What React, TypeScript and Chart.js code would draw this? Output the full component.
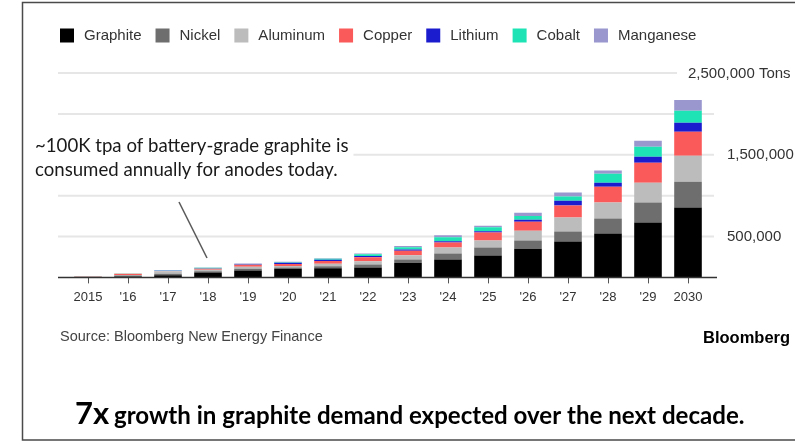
import React, { useEffect, useRef } from "react";
import { Chart, registerables } from "chart.js";

Chart.register(...registerables);

const CATEGORIES = ["2015", "'16", "'17", "'18", "'19", "'20", "'21", "'22", "'23", "'24", "'25", "'26", "'27", "'28", "'29", "2030"];

const GRAPHITE = [5000, 12000, 25000, 60000, 85000, 105000, 112000, 122000, 175000, 220000, 268000, 350000, 439000, 537000, 671000, 854000];
const NICKEL = [4000, 12000, 20000, 15000, 20000, 15000, 25000, 35000, 45000, 73000, 98000, 100000, 122000, 183000, 244000, 317000];
const ALUMINUM = [3000, 5000, 30000, 20000, 25000, 20000, 30000, 40000, 50000, 73000, 85000, 120000, 171000, 195000, 244000, 317000];
const COPPER = [2000, 15000, 3000, 12000, 25000, 25000, 35000, 50000, 55000, 61000, 98000, 110000, 146000, 195000, 244000, 293000];
const LITHIUM = [500, 1000, 2000, 3000, 5000, 15000, 15000, 15000, 15000, 15000, 15000, 25000, 61000, 49000, 73000, 110000];
const COBALT = [500, 2000, 5000, 8000, 5000, 5000, 10000, 20000, 30000, 49000, 49000, 45000, 49000, 110000, 122000, 146000];
const MANGANESE = [500, 2000, 1000, 3000, 5000, 5000, 7000, 10000, 15000, 24000, 18000, 40000, 49000, 37000, 73000, 134000];

const SERIES_NAMES = ["Graphite", "Nickel", "Aluminum", "Copper", "Lithium", "Cobalt", "Manganese"];
const SERIES_COLORS = ["#000000", "#6e6e6e", "#bcbcbc", "#fb5a5a", "#1c1ccf", "#1ee3b4", "#9a97cf"];

const GRID_VALUES = [500000, 1000000, 1500000, 2000000, 2500000];
const Y_LABEL_VALUES = [500000, 1500000, 2500000];
const Y_LABELS = ["500,000", "1,500,000", "2,500,000 Tons"];

const NOTE_LINES = ["~100K tpa of battery-grade graphite is", "consumed annually for anodes today."];
const SOURCE = "Source: Bloomberg New Energy Finance";
const BRAND = "Bloomberg";
const CAPTION_BIG = "7x";
const CAPTION_REST = "growth in graphite demand expected over the next decade.";

const SANS = "'Liberation Sans', Arial, sans-serif";
const HUMAN = "Lato, 'Open Sans', sans-serif";

function fitSize(ctx: CanvasRenderingContext2D, text: string, weight: string, family: string, target: number) {
  ctx.font = `${weight} 100px ${family}`;
  const w = ctx.measureText(text).width;
  return (100 * target) / w;
}

const decorPlugin = {
  id: "decor",
  beforeDraw(chart: any) {
    const ctx = chart.ctx as CanvasRenderingContext2D;
    const W = chart.width;
    ctx.save();
    ctx.fillStyle = "#ffffff";
    ctx.fillRect(0, 0, W, chart.height);
    // frame
    ctx.strokeStyle = "#4a4a4a";
    ctx.lineWidth = 1.5;
    ctx.beginPath();
    ctx.moveTo(W, 2.5);
    ctx.lineTo(22.5, 2.5);
    ctx.lineTo(22.5, 440);
    ctx.lineTo(W, 440);
    ctx.stroke();

    // legend
    ctx.font = `15px ${SANS}`;
    ctx.textBaseline = "middle";
    let x = 60;
    const ly = 35.5;
    SERIES_NAMES.forEach((name, i) => {
      ctx.fillStyle = SERIES_COLORS[i];
      ctx.fillRect(x, ly - 7, 14, 14);
      x += 24;
      ctx.fillStyle = "#333333";
      ctx.fillText(name, x, ly + 0.5);
      x += ctx.measureText(name).width + 14;
    });

    // source + brand
    ctx.textBaseline = "alphabetic";
    ctx.font = `14.5px ${SANS}`;
    ctx.fillStyle = "#444444";
    ctx.fillText(SOURCE, 60, 341);
    ctx.font = `bold 16.5px ${SANS}`;
    ctx.fillStyle = "#000000";
    ctx.fillText(BRAND, 703, 343);

    // caption
    ctx.font = `700 31px ${HUMAN}`;
    ctx.fillStyle = "#000000";
    ctx.fillText(CAPTION_BIG, 75, 424);
    const capSize = fitSize(ctx, CAPTION_REST, "700", HUMAN, 631);
    ctx.font = `700 ${capSize}px ${HUMAN}`;
    ctx.fillText(CAPTION_REST, 114, 424);
    ctx.restore();
  },
  beforeDatasetsDraw(chart: any) {
    const ctx = chart.ctx as CanvasRenderingContext2D;
    const y = chart.scales.y;
    const area = chart.chartArea;
    ctx.save();
    ctx.strokeStyle = "#e6e6e6";
    ctx.lineWidth = 2;
    GRID_VALUES.forEach((v) => {
      const py = y.getPixelForValue(v);
      const right = v === 2500000 ? area.right - 31 : area.right + 6;
      ctx.beginPath();
      ctx.moveTo(area.left - 10, py);
      ctx.lineTo(right, py);
      ctx.stroke();
    });
    ctx.fillStyle = "#333333";
    ctx.font = `15px ${SANS}`;
    ctx.textBaseline = "middle";
    Y_LABEL_VALUES.forEach((v, i) => {
      const py = y.getPixelForValue(v);
      const lx = v === 2500000 ? area.right - 20 : area.right + 19;
      ctx.fillText(Y_LABELS[i], lx, py + 0.5);
    });

    // note with white backing
    const noteSize = fitSize(ctx, NOTE_LINES[1], "400", HUMAN, 303);
    ctx.font = `400 ${noteSize}px ${HUMAN}`;
    const nw = Math.max(ctx.measureText(NOTE_LINES[0]).width, ctx.measureText(NOTE_LINES[1]).width);
    ctx.fillStyle = "#ffffff";
    ctx.fillRect(30, 133, nw + 10, 50);
    ctx.fillStyle = "#1a1a1a";
    ctx.textBaseline = "alphabetic";
    ctx.fillText(NOTE_LINES[0], 35, 152);
    ctx.fillText(NOTE_LINES[1], 35, 176);
    ctx.restore();
  },
  afterDatasetsDraw(chart: any) {
    const ctx = chart.ctx as CanvasRenderingContext2D;
    const area = chart.chartArea;
    const y = chart.scales.y;
    ctx.save();
    ctx.strokeStyle = "#333333";
    ctx.lineWidth = 1.5;
    const by = y.getPixelForValue(0);
    ctx.beginPath();
    ctx.moveTo(area.left - 10, by);
    ctx.lineTo(area.right + 9, by);
    ctx.stroke();
    // leader line
    ctx.strokeStyle = "#5a5a5a";
    ctx.lineWidth = 1.5;
    ctx.beginPath();
    ctx.moveTo(179, 202);
    ctx.lineTo(207, 258);
    ctx.stroke();
    ctx.restore();
  },
};

export default function App() {
  const ref = useRef<HTMLCanvasElement | null>(null);
  useEffect(() => {
    if (!ref.current) return;
    const series = [GRAPHITE, NICKEL, ALUMINUM, COPPER, LITHIUM, COBALT, MANGANESE];
    const chart = new Chart(ref.current, {
      type: "bar",
      data: {
        labels: CATEGORIES,
        datasets: series.map((d, i) => ({
          label: SERIES_NAMES[i],
          data: d,
          backgroundColor: SERIES_COLORS[i],
          borderWidth: 0,
          barPercentage: 0.69,
          categoryPercentage: 1,
        })),
      },
      options: {
        responsive: false,
        animation: false,
        devicePixelRatio: 1,
        layout: { padding: { left: 68, right: 87, top: 73, bottom: 133 } },
        plugins: { legend: { display: false }, tooltip: { enabled: false }, title: { display: false } },
        scales: {
          x: {
            stacked: true,
            grid: { display: true, drawOnChartArea: false, offset: false, tickLength: 6, color: "#555555", lineWidth: 1 },
            border: { display: false },
            ticks: { color: "#333333", font: { size: 13, family: SANS }, padding: 6, maxRotation: 0, autoSkip: false },
          },
          y: { stacked: true, min: 0, max: 2500000, display: false },
        },
      },
      plugins: [decorPlugin],
    });
    return () => chart.destroy();
  }, []);
  return (
    <div style={{ position: "absolute", left: 0, top: 0, width: 795, height: 444 }}>
      <canvas ref={ref} width={795} height={444} style={{ display: "block" }} />
    </div>
  );
}
